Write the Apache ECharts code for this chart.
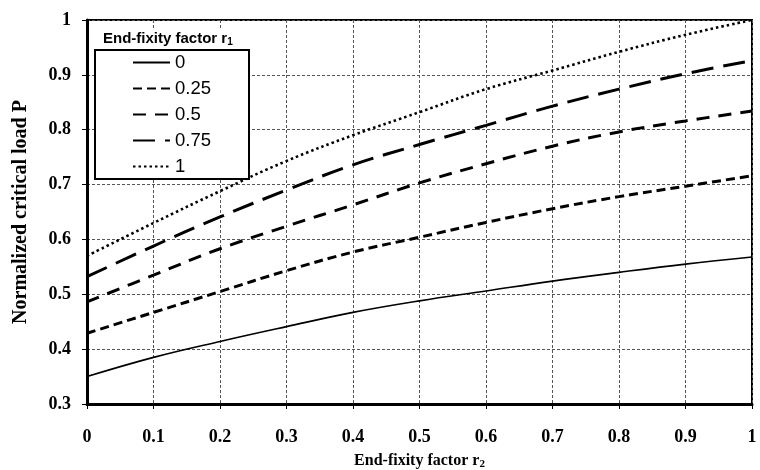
<!DOCTYPE html>
<html>
<head>
<meta charset="utf-8">
<script src="https://cdn.jsdelivr.net/npm/echarts@6/dist/echarts.min.js"></script>
<style>html,body{margin:0;padding:0;background:#fff;}#c{width:760px;height:470px;}</style>
</head>
<body>
<div id="c"></div>
<script>
// x values: end-fixity factor r2
const r2Values = [0, 0.1, 0.2, 0.3, 0.4, 0.5, 0.6, 0.7, 0.8, 0.9, 1.0];
// series names (end-fixity factor r1)
const seriesNames = ['0', '0.25', '0.5', '0.75', '1'];
// normalized critical load P for each r1
const load_r1_0    = [0.350, 0.385, 0.414, 0.441, 0.467, 0.488, 0.506, 0.524, 0.540, 0.555, 0.568];
const load_r1_025  = [0.429, 0.467, 0.505, 0.543, 0.577, 0.604, 0.631, 0.656, 0.678, 0.697, 0.716];
const load_r1_05   = [0.486, 0.535, 0.583, 0.624, 0.663, 0.703, 0.738, 0.770, 0.796, 0.816, 0.834];
const load_r1_075  = [0.532, 0.588, 0.641, 0.690, 0.736, 0.773, 0.808, 0.843, 0.874, 0.902, 0.926];
const load_r1_1    = [0.570, 0.630, 0.688, 0.743, 0.790, 0.832, 0.874, 0.908, 0.942, 0.973, 1.000];
const allLoads = [load_r1_0, load_r1_025, load_r1_05, load_r1_075, load_r1_1];

const lineStyles = [
  {width: 1.6, type: 'solid'},
  {width: 3, type: [9, 5]},
  {width: 3, type: [13, 9]},
  {width: 3, type: [22, 10]},
  {width: 2.6, type: [2.5, 3]}
];

const chart = echarts.init(document.getElementById('c'), null, {renderer: 'canvas'});
const serif = '"Liberation Serif", "Times New Roman", serif';
const sans = '"Liberation Sans", Arial, sans-serif';

const series = seriesNames.map((n, i) => ({
  name: n,
  type: 'line',
  data: r2Values.map((x, j) => [x, allLoads[i][j]]),
  smooth: 0.4,
  symbol: 'none',
  lineStyle: Object.assign({color: '#000'}, lineStyles[i]),
  itemStyle: {color: '#000'},
  z: 3
}));

chart.setOption({
  animation: false,
  backgroundColor: '#fff',
  title: {
    text: 'End-fixity factor r{sub|1}',
    left: 98, top: 28,
    padding: [2, 5, 2, 5],
    backgroundColor: '#fff',
    textStyle: {
      fontFamily: sans, fontWeight: 'bold', fontSize: 15, color: '#000',
      rich: {sub: {fontFamily: sans, fontWeight: 'bold', fontSize: 10, verticalAlign: 'bottom', padding: [7, 0, 0, 0], color: '#000'}}
    },
    z: 10
  },
  legend: {
    orient: 'vertical',
    left: 95, top: 50,
    padding: [3, 38, 3, 37],
    itemGap: 7,
    itemWidth: 37,
    itemHeight: 19,
    backgroundColor: '#fff',
    borderColor: '#000',
    borderWidth: 2,
    itemStyle: {opacity: 0},
    textStyle: {fontFamily: sans, fontSize: 18.5, color: '#000'},
    data: seriesNames,
    z: 10
  },
  grid: {
    left: 87, right: 8, top: 20, bottom: 66,
    outerBoundsMode: 'none',
    containLabel: false,
    show: true, borderColor: '#000', borderWidth: 2, backgroundColor: 'transparent'
  },
  xAxis: {
    type: 'value', min: 0, max: 1, interval: 0.1,
    name: 'End-fixity factor r{sub|2}',
    nameLocation: 'middle', nameGap: 47,
    nameTextStyle: {
      fontFamily: serif, fontWeight: 'bold', fontSize: 16, color: '#000',
      rich: {sub: {fontFamily: serif, fontWeight: 'bold', fontSize: 11, verticalAlign: 'bottom', padding: [8, 0, 0, 0], color: '#000'}}
    },
    axisLine: {show: true, onZero: false, lineStyle: {color: '#000', width: 3}},
    axisTick: {show: true, length: 5, lineStyle: {color: '#000', width: 1}},
    axisLabel: {fontFamily: serif, fontWeight: 'bold', fontSize: 18, color: '#000', margin: 24},
    splitLine: {show: true, lineStyle: {color: '#555', width: 1, type: [3, 2]}}
  },
  yAxis: {
    type: 'value', min: 0.3, max: 1, interval: 0.1,
    name: 'Normalized critical load P',
    nameLocation: 'middle', nameGap: 56,
    nameTextStyle: {fontFamily: serif, fontWeight: 'bold', fontSize: 20, color: '#000'},
    axisLine: {show: true, onZero: false, lineStyle: {color: '#000', width: 3}},
    axisTick: {show: true, length: 5, lineStyle: {color: '#000', width: 1}},
    axisLabel: {fontFamily: serif, fontWeight: 'bold', fontSize: 18, color: '#000', margin: 16},
    splitLine: {show: true, lineStyle: {color: '#555', width: 1, type: [3, 2]}}
  },
  series: series
});
</script>
</body>
</html>
